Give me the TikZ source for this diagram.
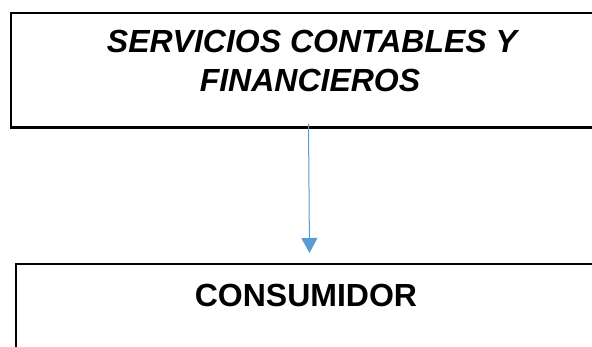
\documentclass[tikz,border=0pt]{standalone}
\usepackage{fontspec}
\setmainfont{Liberation Sans}
\usetikzlibrary{arrows.meta}
\definecolor{arrowblue}{RGB}{91,155,213}
\begin{document}
\begin{tikzpicture}[x=1pt,y=-1pt,
  boxstyle/.style={draw=black, line width=2.5pt, rectangle, inner sep=0pt, anchor=north west},
  titletext/.style={anchor=base, inner sep=0pt, font=\fontsize{32}{37}\selectfont\bfseries},
  flowarrow/.style={draw=arrowblue, line width=1pt, -{Triangle[width=16pt,length=15pt]}}]
\useasboundingbox (0,0) rectangle (592,347);
\begin{scope}
\clip (0,0) rectangle (592,347);
\node[boxstyle, minimum width=600pt, minimum height=114.5pt] (top) at (9.5,12) {};
\node[boxstyle, minimum width=600pt, minimum height=120pt] (bot) at (14.5,263) {};
\end{scope}
\node[titletext] (t1) at (312,52.5) {\itshape SERVICIOS CONTABLES Y};
\node[titletext] (t2) at (310,91.5) {\itshape FINANCIEROS};
\node[titletext] (t3) at (306,307) {CONSUMIDOR};
\coordinate (a1) at (308.5,124);
\coordinate (a2) at (309.5,253);
\draw[flowarrow] (a1) -- (a2);
\end{tikzpicture}
\end{document}
